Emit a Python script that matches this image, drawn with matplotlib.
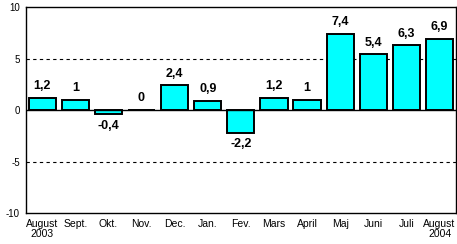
import matplotlib.pyplot as plt
import numpy as np

months = ["August\n2003", "Sept.", "Okt.", "Nov.", "Dec.", "Jan.", "Fev.",
          "Mars", "April", "Maj", "Juni", "Juli", "August\n2004"]
values = [1.2, 1, -0.4, 0, 2.4, 0.9, -2.2, 1.2, 1, 7.4, 5.4, 6.3, 6.9]
labels = ["1,2", "1", "-0,4", "0", "2,4", "0,9", "-2,2", "1,2", "1", "7,4", "5,4", "6,3", "6,9"]

plt.rcParams['font.family'] = ['Liberation Sans', 'DejaVu Sans']

fig = plt.figure(figsize=(4.57, 2.44), dpi=100)
ax = fig.add_axes([0.056, 0.127, 0.942, 0.844])

x = np.arange(len(values))
ax.bar(x, values, width=0.82, color="#00ffff", edgecolor="black", linewidth=1.4, zorder=3)

# dashed grid at +/-5, solid zero line
for yv in (5, -5):
    ax.axhline(yv, color="black", linestyle=(0, (3, 3)), linewidth=0.8, zorder=1)
ax.axhline(0, color="black", linewidth=1.0, zorder=4)

# value labels above / below bars
for xi, v, lab in zip(x, values, labels):
    if v < 0:
        ax.annotate(lab, (xi, v), xytext=(0, -4), textcoords="offset points",
                    ha="center", va="top", fontsize=9, fontweight="bold")
    else:
        ax.annotate(lab, (xi, v), xytext=(0, 4), textcoords="offset points",
                    ha="center", va="bottom", fontsize=9, fontweight="bold")

ax.set_xlim(-0.5, len(values) - 0.5)
ax.set_ylim(-10, 10)
ax.set_yticks([-10, -5, 0, 5, 10])
ax.set_yticklabels(["-10", "-5", "0", "5", "10"], fontsize=7)
ax.set_xticks(x)
ax.set_xticklabels(months, fontsize=7.5, linespacing=1.1)
ax.tick_params(length=0, pad=4)

for sp in ax.spines.values():
    sp.set_linewidth(1.0)

plt.savefig("out.png", dpi=100)
plt.close()
